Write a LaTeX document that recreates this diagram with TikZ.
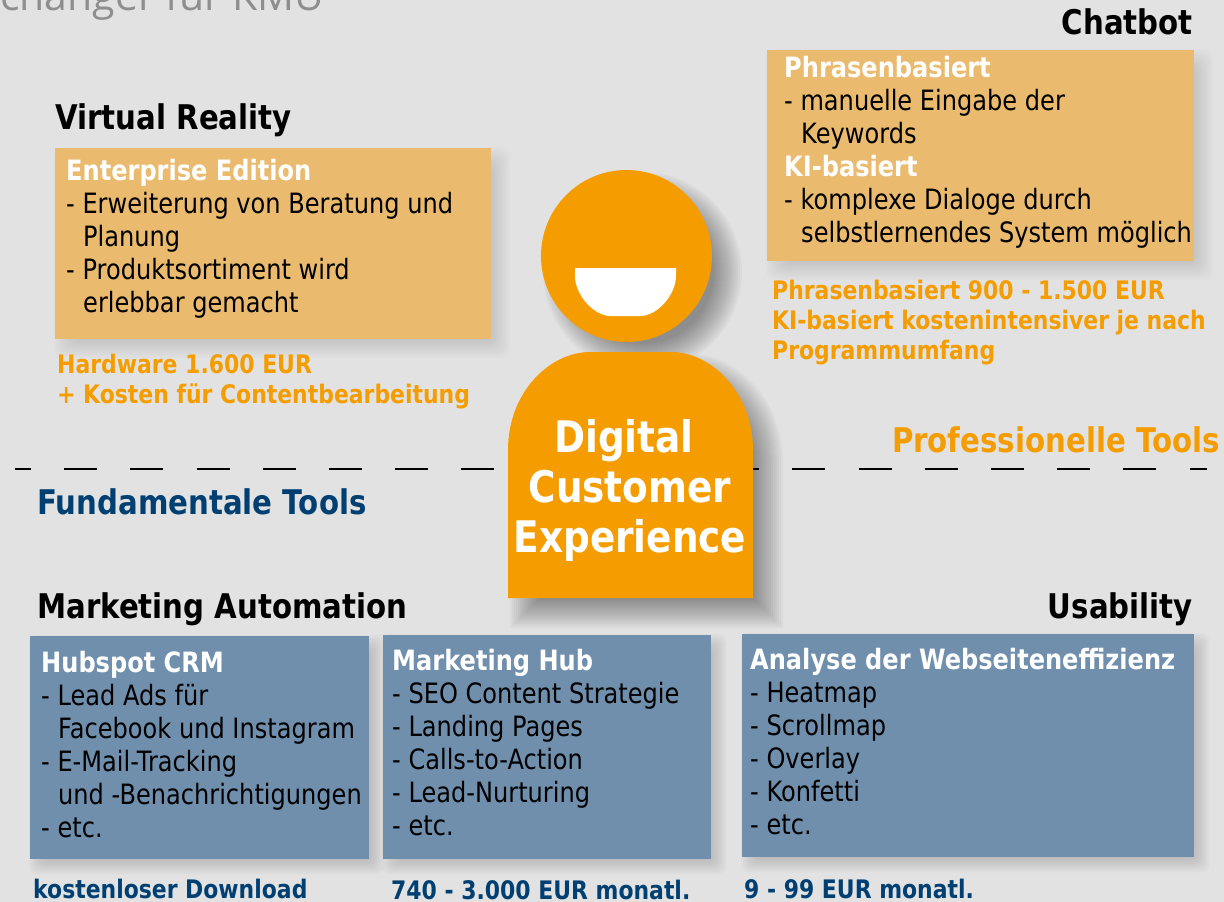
\documentclass[tikz,border=0pt]{standalone}
\usepackage{fontspec}
\setmainfont[FakeStretch=0.86]{DejaVu Sans}
\newfontfamily\titlefont{Open Sans}
\usetikzlibrary{calc}
\usetikzlibrary{shapes.geometric}
\definecolor{bgGray}{HTML}{E2E2E2}
\definecolor{dceOrange}{HTML}{F59D00}
\definecolor{boxTan}{HTML}{EABB6E}
\definecolor{boxBlue}{HTML}{6F8FAD}
\definecolor{darkBlue}{HTML}{003F72}
\definecolor{titleGray}{HTML}{8E8E8E}
\pgfdeclarelayer{shadowlayer}
\pgfsetlayers{shadowlayer,main}
\tikzset{
    tanbox/.style={anchor=north west,fill=boxTan,inner sep=0pt},
    bluebox/.style={anchor=north west,fill=boxBlue,inner sep=0pt},
    boxtext/.style={anchor=north west,inner sep=0pt,align=left,font=\fontsize{28}{33}\selectfont},
    heading/.style={inner sep=0pt,font=\fontsize{34}{38}\selectfont\bfseries},
    orangeprice/.style={anchor=north west,inner sep=0pt,align=left,text=dceOrange,font=\fontsize{25.5}{30}\selectfont\bfseries},
    blueprice/.style={anchor=north west,inner sep=0pt,text=darkBlue,font=\fontsize{25.5}{30}\selectfont\bfseries},
}
\newcommand{\ind}{\hspace*{17pt}}
\newcommand{\boxhead}[1]{\textcolor{white}{\bfseries #1}}
\newcommand{\bodyoutline}{(-122.5,-123)--(-122.5,25) .. controls (-122.5,83) and (-80.5,123) .. (-40.5,123)--(40.5,123) .. controls (80.5,123) and (122.5,83) .. (122.5,25)--(122.5,-123)--cycle}
% node, offset, blur, opacity of one step
\newcommand{\rectshadow}[4]{
    \pgfmathtruncatemacro{\blurnext}{-#3+2}
    \foreach \k in {-#3,\blurnext,...,#3}{
        \fill[black,opacity=#4,rounded corners=#3pt] ($(#1.south west)+({#2-\k},{-#2-\k})$) rectangle ($(#1.north east)+({#2+\k},{-#2+\k})$);
    }
}
\begin{document}
\begin{tikzpicture}[x=1pt,y=1pt]
        \useasboundingbox (0,0) rectangle (1224,-902);
        \node[anchor=base west,inner sep=0pt,text=titleGray,font=\titlefont\fontsize{41}{50}\selectfont] (title) at (0,-10){changer für KMU};
        % separator
        \coordinate (sepleft) at (14.5,-469);
        \coordinate (sepright) at (1207,-469);
        \draw[line width=2.5pt,dash pattern=on 33pt off 33.2pt,dash phase=16.5pt] (sepleft)--(sepright);
        % person
        \node[ellipse,minimum width=171pt,minimum height=172pt,inner sep=0pt,fill=dceOrange] (head) at (626.5,-256){};
        \fill[white] (575,-268)--(676,-268)--(676,-276) .. controls (676,-294) and (658,-316) .. (640,-316)--(611,-316) .. controls (593,-316) and (575,-294) .. (575,-276)--cycle;
        \coordinate (body) at (630.5,-475);
        \fill[dceOrange,shift={(body)}] \bodyoutline;
        \node[align=center,inner sep=0pt,text=white,font=\fontsize{43.5}{50}\selectfont\bfseries] (dce) at (630,-490){Digital\hspace*{12pt}\\Customer\\Experience};
        % virtual reality
        \node[heading,anchor=north west] (vrtitle) at (55,-103){Virtual Reality};
        \node[tanbox,minimum width=436pt,minimum height=191pt] (vrbox) at (55,-148){};
        \node[boxtext] (vrtext) at (66,-159){\boxhead{Enterprise Edition}\\- Erweiterung von Beratung und\\\ind Planung\\- Produktsortiment wird\\\ind erlebbar gemacht};
        \node[orangeprice] (vrprice) at (57,-354){Hardware 1.600 EUR\\+ Kosten für Contentbearbeitung};
        % chatbot
        \node[heading,anchor=north east] (chattitle) at (1193,-8){Chatbot};
        \node[tanbox,minimum width=427pt,minimum height=211pt] (chatbox) at (767,-50){};
        \node[boxtext] (chattext) at (784,-56){\boxhead{Phrasenbasiert}\\- manuelle Eingabe der\\\ind Keywords\\\boxhead{KI-basiert}\\- komplexe Dialoge durch\\\ind selbstlernendes System möglich};
        \node[orangeprice] (chatprice) at (772,-280){Phrasenbasiert 900 - 1.500 EUR\\KI-basiert kostenintensiver je nach\\Programmumfang};
        % tool levels
        \node[heading,anchor=north east,text=dceOrange] (protools) at (1220,-426){Professionelle Tools};
        \node[heading,anchor=north west,text=darkBlue] (fundtools) at (37,-488){Fundamentale Tools};
        % marketing automation
        \node[heading,anchor=north west] (matitle) at (37,-592){Marketing Automation};
        \node[bluebox,minimum width=339pt,minimum height=223pt] (crmbox) at (30,-636){};
        \node[boxtext] (crmtext) at (41,-651){\boxhead{Hubspot CRM}\\- Lead Ads für\\\ind Facebook und Instagram\\- E-Mail-Tracking\\\ind und -Benachrichtigungen\\- etc.};
        \node[blueprice] (crmprice) at (33,-879){kostenloser Download};
        \node[bluebox,minimum width=328pt,minimum height=224pt] (hubbox) at (383,-635){};
        \node[boxtext] (hubtext) at (392,-649){\boxhead{Marketing Hub}\\- SEO Content Strategie\\- Landing Pages\\- Calls-to-Action\\- Lead-Nurturing\\- etc.};
        \node[blueprice] (hubprice) at (391,-880){740 - 3.000 EUR monatl.};
        % usability
        \node[heading,anchor=north east] (usetitle) at (1193,-592){Usability};
        \node[bluebox,minimum width=452pt,minimum height=223pt] (usebox) at (742,-634){};
        \node[boxtext] (usetext) at (750,-648){\boxhead{Analyse der Webseiteneffizienz}\\- Heatmap\\- Scrollmap\\- Overlay\\- Konfetti\\- etc.};
        \node[blueprice] (useprice) at (744,-879){9 - 99 EUR monatl.};
        % shadows under everything
        \begin{pgfonlayer}{shadowlayer}
            \fill[bgGray] (0,0) rectangle (1224,-902);
            \rectshadow{vrbox}{9}{10}{.0125}
            \rectshadow{chatbox}{9}{10}{.0125}
            \rectshadow{crmbox}{7}{8}{.018}
            \rectshadow{hubbox}{7}{8}{.018}
            \rectshadow{usebox}{7}{8}{.018}
            \foreach \k in {-14,-12,...,14}{
                \fill[black,opacity=.026] ($(head.center)+(16,-16)$) ellipse [x radius=85.5+\k,y radius=86+\k];
                \fill[black,opacity=.026,shift={(646.5,-491)},xscale={1+\k/122.5},yscale={1+\k/123}] \bodyoutline;
            }
        \end{pgfonlayer}
    \end{tikzpicture}
\end{document}
